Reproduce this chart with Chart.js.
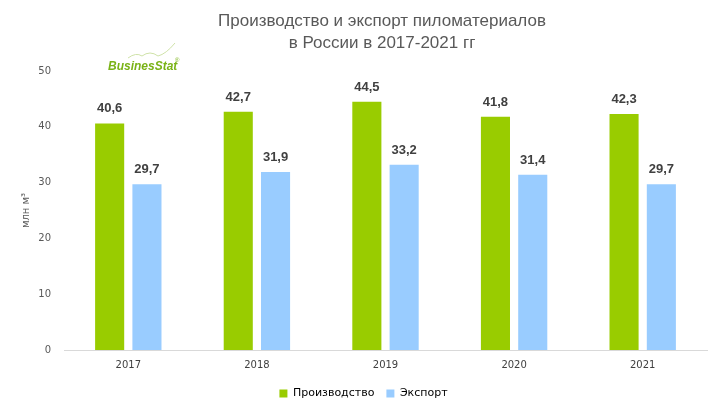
<!DOCTYPE html>
<html>
<head>
<meta charset="utf-8">
<script src="https://cdn.jsdelivr.net/npm/chart.js@4"></script>
<style>
  html, body { margin: 0; padding: 0; background: #fff; }
  #wrap { width: 718px; height: 413px; position: relative; }
</style>
</head>
<body>
<div id="wrap"><canvas id="lumberChart"></canvas></div>
<script>
const years = ['2017', '2018', '2019', '2020', '2021'];
const production = [40.6, 42.7, 44.5, 41.8, 42.3];
const exportVals = [29.7, 31.9, 33.2, 31.4, 29.7];
const seriesNames = ['Производство', 'Экспорт'];
const titleLines = ['Производство и экспорт пиломатериалов', 'в России в 2017-2021 гг'];

// value labels above each bar, with comma decimals
const barLabels = {
    id: 'barLabels',
    afterDatasetsDraw(chart) {
        const ctx = chart.ctx;
        ctx.save();
        ctx.font = 'bold 13px "Liberation Sans", sans-serif';
        ctx.fillStyle = '#404040';
        ctx.textAlign = 'center';
        ctx.textBaseline = 'alphabetic';
        chart.data.datasets.forEach((ds, i) => {
            chart.getDatasetMeta(i).data.forEach((bar, j) => {
                ctx.fillText(ds.data[j].toFixed(1).replace('.', ','), bar.x, bar.y - 11);
            });
        });
        ctx.restore();
    }
};

// two-line title, centred a bit right of the canvas middle like the original
const titleText = {
    id: 'titleText',
    afterDraw(chart) {
        const ctx = chart.ctx;
        ctx.save();
        ctx.font = '17px "Liberation Sans", sans-serif';
        ctx.fillStyle = '#595959';
        ctx.textAlign = 'center';
        ctx.textBaseline = 'alphabetic';
        ctx.fillText(titleLines[0], 382, 26);
        ctx.fillText(titleLines[1], 382, 48);
        ctx.restore();
    }
};

// small BusinesStat logo in top-left of the plot
const logo = {
    id: 'logo',
    afterDraw(chart) {
        const ctx = chart.ctx;
        ctx.save();
        ctx.strokeStyle = '#cfe2a8';
        ctx.lineWidth = 1;
        ctx.beginPath();
        ctx.moveTo(128, 58);
        ctx.quadraticCurveTo(136, 52, 142, 56);
        ctx.quadraticCurveTo(150, 50, 158, 56);
        ctx.quadraticCurveTo(166, 54, 175, 43);
        ctx.stroke();
        ctx.font = 'italic bold 12px "Liberation Sans", sans-serif';
        ctx.fillStyle = '#7ab317';
        ctx.fillText('BusinesStat', 108, 67);
        ctx.font = '6px "Liberation Sans", sans-serif';
        ctx.fillText('®', 175, 60);
        ctx.restore();
    }
};

new Chart(document.getElementById('lumberChart'), {
    type: 'bar',
    data: {
        labels: years,
        datasets: [{
            label: seriesNames[0],
            data: production,
            backgroundColor: '#99cc00'
        }, {
            label: seriesNames[1],
            data: exportVals,
            backgroundColor: '#99ccff'
        }]
    },
    options: {
        responsive: true,
        maintainAspectRatio: false,
        animation: false,
        categoryPercentage: 0.58,
        barPercentage: 0.78,
        layout: { padding: { top: 71, right: 11, left: 20, bottom: 4 } },
        scales: {
            x: {
                afterFit(scale) { scale.height -= 4; },
                grid: { display: false, drawTicks: false },
                border: { color: '#d9d9d9' },
                ticks: {
                    color: '#404040',
                    padding: 9,
                    font: { family: '"DejaVu Sans", sans-serif', size: 10 }
                }
            },
            y: {
                min: 0,
                max: 50,
                afterFit(scale) { scale.width = 44; },
                ticks: {
                    stepSize: 10,
                    color: '#595959',
                    padding: 13,
                    font: { family: '"DejaVu Sans", sans-serif', size: 10 }
                },
                grid: { display: false, drawTicks: false },
                border: { display: false },
                title: {
                    display: true,
                    text: 'млн м³',
                    color: '#595959',
                    padding: 0,
                    font: { family: '"DejaVu Sans", sans-serif', size: 10 }
                }
            }
        },
        plugins: {
            title: { display: false },
            legend: {
                position: 'bottom',
                labels: {
                    boxWidth: 8,
                    boxHeight: 8,
                    padding: 12,
                    color: '#000',
                    font: { family: '"DejaVu Sans", sans-serif', size: 11 }
                }
            },
            tooltip: { enabled: false }
        }
    },
    plugins: [barLabels, titleText, logo]
});
</script>
</body>
</html>
